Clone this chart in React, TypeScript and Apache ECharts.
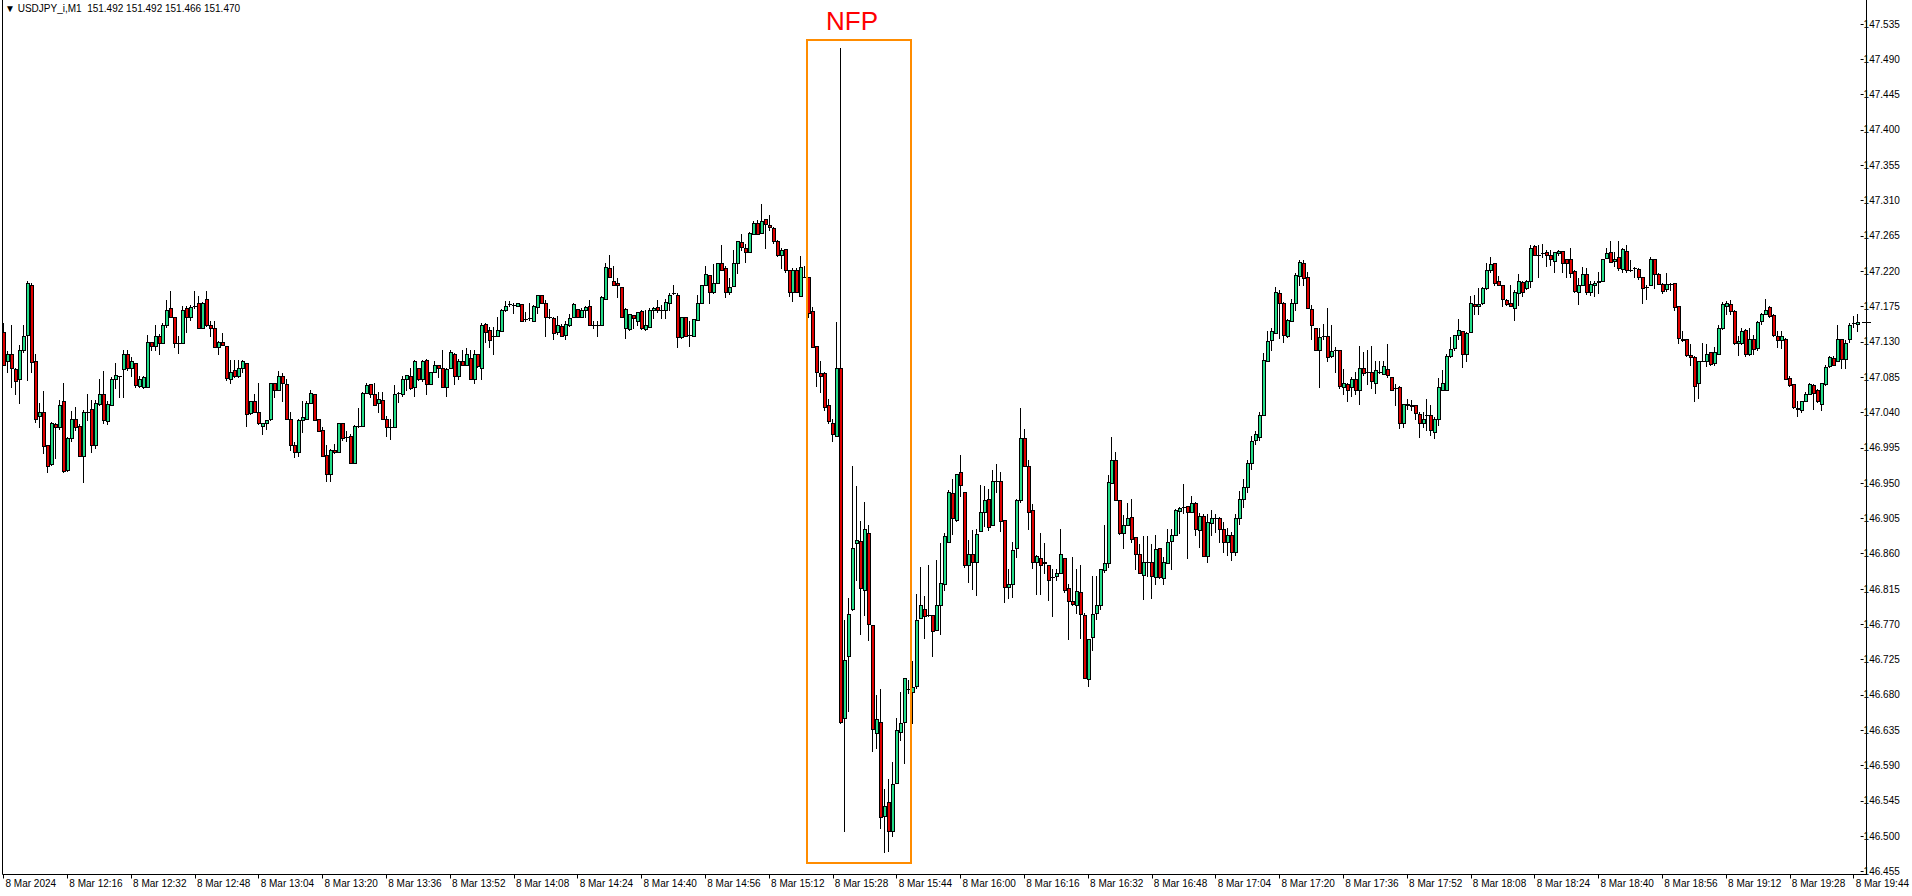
import React, { useEffect, useRef } from "react";
import * as echarts from "echarts";

// [open, close, low, high] per 1-minute candle, 8 Mar 2024, starting 12:00
const h12 = [
  [147.142,147.101,147.100,147.154],[147.105,147.114,147.091,147.118],[147.115,147.096,147.073,147.151],[147.095,147.080,147.064,147.097],
  [147.082,147.119,147.052,147.126],[147.119,147.138,147.117,147.152],[147.139,147.205,147.081,147.207],[147.203,147.104,147.091,147.205],
  [147.105,147.031,147.028,147.115],[147.035,147.040,147.022,147.052],[147.040,146.997,146.988,147.067],[146.998,146.972,146.964,146.998],
  [146.974,147.026,146.973,147.028],[147.025,147.022,146.982,147.027],[147.022,147.050,147.019,147.056],[147.055,146.965,146.964,147.077],
  [146.967,147.008,146.965,147.009],[147.008,147.032,147.004,147.042],[147.031,147.022,147.018,147.047],[147.023,146.985,146.985,147.025],
  [146.985,147.040,146.951,147.043],[147.041,147.041,147.030,147.064],[147.044,146.999,146.989,147.056],[146.999,147.052,146.995,147.056],
  [147.051,147.064,147.049,147.083],[147.064,147.030,147.027,147.093],[147.029,147.051,147.025,147.054],[147.050,147.082,147.050,147.085],
  [147.082,147.088,147.071,147.103],[147.087,147.087,147.060,147.087],[147.095,147.115,147.060,147.120],[147.115,147.096,147.094,147.120],
  [147.096,147.105,147.086,147.111],[147.103,147.075,147.073,147.103],[147.074,147.083,147.072,147.086],[147.073,147.085,147.071,147.087],
  [147.073,147.130,147.073,147.139],[147.130,147.125,147.120,147.130],[147.125,147.137,147.120,147.152],[147.137,147.129,147.115,147.140],
  [147.129,147.151,147.129,147.154],[147.151,147.171,147.149,147.183],[147.173,147.161,147.161,147.195],[147.161,147.128,147.124,147.161],
  [147.129,147.129,147.116,147.137],[147.129,147.171,147.129,147.176],[147.173,147.161,147.143,147.175],[147.161,147.174,147.158,147.177],
  [147.175,147.175,147.173,147.195],[147.180,147.148,147.147,147.188],[147.148,147.180,147.147,147.181],[147.184,147.151,147.150,147.195],
  [147.151,147.147,147.138,147.156],[147.147,147.124,147.124,147.156],[147.123,147.130,147.115,147.131],[147.130,147.126,147.126,147.141],
  [147.125,147.084,147.081,147.125],[147.083,147.092,147.078,147.107],[147.094,147.086,147.085,147.107],[147.086,147.097,147.085,147.107],
];
const h13 = [
  [147.097,147.105,147.092,147.107],[147.103,147.038,147.023,147.103],[147.039,147.054,147.038,147.054],[147.054,147.041,147.040,147.064],
  [147.041,147.026,147.025,147.077],[147.023,147.027,147.012,147.027],[147.026,147.030,147.019,147.030],[147.031,147.077,147.030,147.078],
  [147.078,147.069,147.060,147.078],[147.069,147.086,147.068,147.093],[147.086,147.077,147.054,147.090],[147.076,147.031,147.031,147.083],
  [147.031,146.999,146.992,147.041],[146.998,146.989,146.983,147.002],[146.990,147.030,146.985,147.032],[147.030,147.034,147.015,147.054],
  [147.032,147.052,147.032,147.054],[147.052,147.065,147.052,147.069],[147.063,147.030,147.030,147.063],[147.031,147.016,147.016,147.031],
  [147.018,146.985,146.985,147.022],[146.986,146.962,146.953,146.998],[146.961,146.992,146.952,146.993],[146.992,146.989,146.988,147.000],
  [146.990,147.027,146.990,147.027],[147.026,147.008,147.005,147.026],[147.009,147.009,147.003,147.016],[147.010,146.976,146.975,147.012],
  [146.976,147.023,146.976,147.024],[147.023,147.023,147.022,147.046],[147.023,147.065,147.023,147.066],[147.065,147.075,147.065,147.077],
  [147.076,147.064,147.060,147.076],[147.064,147.050,147.049,147.077],[147.052,147.057,147.040,147.066],[147.056,147.031,147.031,147.066],
  [147.032,147.021,147.010,147.035],[147.022,147.022,147.006,147.031],[147.021,147.064,147.021,147.075],[147.065,147.065,147.053,147.066],
  [147.064,147.083,147.061,147.087],[147.082,147.088,147.068,147.088],[147.087,147.071,147.070,147.097],[147.072,147.105,147.061,147.107],
  [147.097,147.083,147.081,147.097],[147.082,147.105,147.080,147.107],[147.107,147.076,147.064,147.108],[147.076,147.091,147.076,147.092],
  [147.091,147.101,147.091,147.105],[147.101,147.096,147.085,147.101],[147.096,147.073,147.072,147.119],[147.073,147.095,147.061,147.096],
  [147.096,147.117,147.096,147.119],[147.115,147.087,147.076,147.116],[147.087,147.106,147.083,147.108],[147.106,147.101,147.101,147.119],
  [147.100,147.115,147.100,147.122],[147.110,147.082,147.082,147.120],[147.082,147.115,147.077,147.120],[147.115,147.099,147.098,147.115],
];
const h14 = [
  [147.096,147.152,147.083,147.154],[147.153,147.142,147.130,147.154],[147.145,147.132,147.124,147.149],[147.138,147.138,147.115,147.149],
  [147.138,147.145,147.137,147.161],[147.144,147.170,147.144,147.172],[147.170,147.176,147.169,147.182],[147.178,147.178,147.176,147.182],
  [147.177,147.177,147.167,147.179],[147.175,147.179,147.175,147.180],[147.178,147.157,147.156,147.178],[147.159,147.159,147.156,147.168],
  [147.160,147.160,147.158,147.180],[147.157,147.176,147.157,147.177],[147.174,147.190,147.167,147.190],[147.190,147.180,147.180,147.190],
  [147.180,147.161,147.138,147.183],[147.161,147.161,147.160,147.172],[147.160,147.141,147.134,147.162],[147.142,147.151,147.140,147.163],
  [147.150,147.138,147.137,147.153],[147.139,147.153,147.134,147.156],[147.151,147.160,147.150,147.166],[147.162,147.178,147.161,147.179],
  [147.172,147.161,147.161,147.172],[147.161,147.171,147.161,147.173],[147.170,147.174,147.162,147.175],[147.175,147.152,147.151,147.183],
  [147.152,147.152,147.147,147.156],[147.152,147.152,147.138,147.156],[147.151,147.187,147.151,147.188],[147.185,147.225,147.185,147.230],
  [147.224,147.212,147.212,147.241],[147.207,147.203,147.203,147.227],[147.205,147.202,147.187,147.211],[147.200,147.162,147.161,147.200],
  [147.148,147.172,147.135,147.173],[147.146,147.165,147.145,147.166],[147.164,147.160,147.147,147.164],[147.157,147.168,147.151,147.168],
  [147.169,147.147,147.146,147.170],[147.146,147.151,147.145,147.170],[147.149,147.171,147.149,147.173],[147.171,147.173,147.160,147.174],
  [147.174,147.170,147.168,147.183],[147.171,147.171,147.160,147.177],[147.171,147.181,147.160,147.185],[147.180,147.190,147.170,147.192],
  [147.192,147.192,147.191,147.203],[147.190,147.136,147.124,147.192],[147.136,147.161,147.135,147.162],[147.161,147.138,147.138,147.162],
  [147.139,147.139,147.125,147.157],[147.138,147.159,147.138,147.159],[147.158,147.180,147.158,147.190],[147.180,147.203,147.179,147.203],
  [147.203,147.216,147.203,147.227],[147.215,147.194,147.179,147.215],[147.193,147.205,147.192,147.229],[147.205,147.230,147.205,147.231],
];
const h15 = [
  [147.231,147.221,147.221,147.253],[147.224,147.193,147.187,147.226],[147.194,147.200,147.191,147.211],[147.201,147.230,147.201,147.247],
  [147.231,147.258,147.218,147.258],[147.257,147.251,147.247,147.267],[147.250,147.245,147.232,147.255],[147.245,147.269,147.245,147.270],
  [147.268,147.282,147.268,147.284],[147.281,147.268,147.267,147.285],[147.269,147.284,147.269,147.306],[147.286,147.280,147.249,147.287],
  [147.279,147.276,147.273,147.292],[147.275,147.258,147.256,147.276],[147.259,147.241,147.239,147.260],[147.240,147.247,147.224,147.249],
  [147.248,147.221,147.219,147.248],[147.221,147.194,147.188,147.222],[147.194,147.222,147.182,147.224],[147.221,147.194,147.193,147.224],
  [147.189,147.225,147.188,147.239],[147.213,147.213,147.212,147.226],[147.212,147.167,147.162,147.212],[147.169,147.124,147.124,147.174],
  [147.125,147.091,147.074,147.125],[147.090,147.087,147.066,147.105],[147.090,147.047,147.043,147.091],[147.049,147.029,147.027,147.057],
  [147.027,147.012,147.004,147.031],[147.010,147.096,147.010,147.155],[147.096,146.646,146.644,147.504],[146.650,146.725,146.506,146.776],
  [146.729,146.783,146.659,146.803],[146.790,146.867,146.788,146.972],[146.873,146.877,146.827,146.946],[146.876,146.816,146.758,146.902],
  [146.814,146.892,146.782,146.926],[146.887,146.770,146.750,146.897],[146.769,146.636,146.608,146.769],[146.631,146.649,146.612,146.680],
  [146.646,146.524,146.511,146.687],[146.526,146.539,146.480,146.560],[146.543,146.506,146.481,146.573],[146.506,146.566,146.500,146.595],
  [146.568,146.635,146.568,146.651],[146.633,146.644,146.622,146.684],[146.646,146.701,146.593,146.701],[146.688,146.688,146.682,146.699],
  [146.684,146.690,146.644,146.723],[146.691,146.776,146.689,146.808],[146.778,146.795,146.778,146.843],[146.790,146.780,146.752,146.806],
  [146.782,146.782,146.780,146.846],[146.782,146.761,146.729,146.782],[146.763,146.794,146.763,146.852],[146.794,146.823,146.758,146.873],
  [146.821,146.882,146.814,146.887],[146.875,146.938,146.875,146.941],[146.937,146.905,146.885,146.955],[146.903,146.961,146.902,146.961],
];
const h16 = [
  [146.964,146.947,146.934,146.986],[146.938,146.845,146.843,146.938],[146.845,146.859,146.824,146.878],[146.860,146.849,146.815,146.890],
  [146.850,146.885,146.807,146.892],[146.889,146.913,146.889,146.947],[146.913,146.929,146.895,146.946],[146.930,146.894,146.890,146.943],
  [146.896,146.953,146.896,146.967],[146.953,146.953,146.939,146.974],[146.953,146.902,146.889,146.964],[146.903,146.817,146.799,146.903],
  [146.818,146.821,146.804,146.840],[146.822,146.865,146.805,146.875],[146.867,146.929,146.856,146.930],[146.928,147.008,146.926,147.046],
  [147.008,146.972,146.972,147.019],[146.972,146.913,146.892,146.979],[146.916,146.850,146.842,146.923],[146.849,146.857,146.808,146.858],
  [146.855,146.846,146.809,146.886],[146.850,146.848,146.835,146.873],[146.846,146.826,146.801,146.846],[146.830,146.830,146.780,146.841],
  [146.831,146.836,146.826,146.841],[146.836,146.859,146.835,146.891],[146.855,146.814,146.811,146.855],[146.816,146.800,146.751,146.822],
  [146.800,146.796,146.794,146.856],[146.795,146.812,146.784,146.840],[146.811,146.783,146.753,146.845],[146.782,146.701,146.701,146.784],
  [146.700,146.751,146.692,146.751],[146.754,146.783,146.737,146.831],[146.784,146.795,146.777,146.831],[146.794,146.840,146.790,146.840],
  [146.839,146.848,146.837,146.896],[146.848,146.951,146.843,146.960],[146.950,146.980,146.950,147.009],[146.980,146.929,146.929,146.990],
  [146.929,146.887,146.885,146.929],[146.887,146.896,146.867,146.909],[146.896,146.906,146.896,146.924],[146.907,146.879,146.875,146.930],
  [146.881,146.859,146.841,146.881],[146.859,146.836,146.836,146.872],[146.833,146.849,146.802,146.882],[146.850,146.850,146.831,146.882],
  [146.849,146.831,146.804,146.872],[146.830,146.866,146.822,146.884],[146.867,146.830,146.829,146.867],[146.829,146.849,146.821,146.856],
  [146.848,146.875,146.848,146.892],[146.876,146.884,146.841,146.892],[146.884,146.916,146.884,146.917],[146.915,146.918,146.886,146.920],
  [146.920,146.920,146.912,146.949],[146.921,146.913,146.855,146.921],[146.913,146.924,146.913,146.934],[146.924,146.892,146.884,146.926],
];
const h17 = [
  [146.890,146.908,146.868,146.912],[146.908,146.857,146.857,146.911],[146.857,146.900,146.850,146.911],[146.899,146.906,146.884,146.916],
  [146.906,146.906,146.888,146.911],[146.906,146.892,146.875,146.907],[146.892,146.875,146.862,146.900],[146.875,146.884,146.858,146.893],
  [146.884,146.862,146.852,146.888],[146.862,146.905,146.858,146.910],[146.905,146.930,146.898,146.940],[146.930,146.945,146.920,146.955],
  [146.945,146.975,146.938,146.980],[146.975,147.004,146.968,147.010],[147.005,147.013,147.000,147.016],[147.009,147.037,147.005,147.040],
  [147.037,147.107,147.037,147.116],[147.106,147.131,147.105,147.144],[147.132,147.144,147.120,147.147],[147.141,147.193,147.141,147.200],
  [147.192,147.180,147.135,147.196],[147.179,147.139,147.130,147.181],[147.138,147.158,147.136,147.159],[147.156,147.179,147.156,147.184],
  [147.180,147.215,147.170,147.218],[147.214,147.232,147.203,147.234],[147.231,147.211,147.202,147.234],[147.212,147.173,147.173,147.219],
  [147.172,147.151,147.134,147.177],[147.147,147.119,147.119,147.148],[147.119,147.136,147.072,147.147],[147.138,147.138,147.134,147.153],
  [147.138,147.111,147.105,147.173],[147.112,147.118,147.111,147.151],[147.119,147.119,147.091,147.123],[147.119,147.074,147.071,147.119],
  [147.073,147.077,147.063,147.095],[147.076,147.068,147.054,147.078],[147.073,147.083,147.061,147.085],[147.082,147.068,147.063,147.092],
  [147.068,147.096,147.051,147.125],[147.096,147.090,147.088,147.117],[147.091,147.091,147.076,147.119],[147.091,147.080,147.071,147.125],
  [147.078,147.094,147.065,147.105],[147.092,147.092,147.090,147.105],[147.089,147.099,147.089,147.105],[147.095,147.088,147.085,147.127],
  [147.085,147.068,147.068,147.085],[147.071,147.071,147.049,147.076],[147.072,147.026,147.020,147.074],[147.027,147.051,147.022,147.051],
  [147.051,147.049,147.044,147.057],[147.050,147.048,147.043,147.056],[147.050,147.039,147.031,147.050],[147.038,147.026,147.009,147.040],
  [147.027,147.032,147.022,147.040],[147.037,147.037,147.018,147.057],[147.037,147.017,147.011,147.049],[147.015,147.031,147.008,147.034],
];
const h18 = [
  [147.031,147.072,147.024,147.084],[147.068,147.077,147.068,147.094],[147.068,147.112,147.068,147.114],[147.112,147.121,147.111,147.136],
  [147.122,147.139,147.120,147.139],[147.139,147.145,147.134,147.159],[147.144,147.115,147.098,147.144],[147.115,147.141,147.106,147.142],
  [147.142,147.180,147.142,147.188],[147.178,147.176,147.166,147.190],[147.176,147.178,147.166,147.199],[147.179,147.199,147.178,147.200],
  [147.198,147.221,147.197,147.231],[147.221,147.229,147.219,147.238],[147.230,147.205,147.203,147.231],[147.207,147.203,147.202,147.214],
  [147.202,147.184,147.175,147.202],[147.183,147.178,147.177,147.184],[147.179,147.176,147.175,147.202],[147.173,147.193,147.158,147.196],
  [147.192,147.207,147.177,147.217],[147.206,147.194,147.188,147.207],[147.198,147.208,147.197,147.209],[147.208,147.250,147.200,147.253],
  [147.252,147.241,147.241,147.254],[147.241,147.241,147.212,147.253],[147.243,147.243,147.238,147.255],[147.244,147.240,147.227,147.247],
  [147.241,147.235,147.228,147.247],[147.233,147.244,147.219,147.245],[147.243,147.246,147.241,147.247],[147.246,147.231,147.219,147.246],
  [147.236,147.231,147.213,147.236],[147.236,147.218,147.213,147.250],[147.220,147.195,147.193,147.222],[147.193,147.203,147.178,147.211],
  [147.203,147.217,147.202,147.225],[147.217,147.194,147.191,147.224],[147.194,147.204,147.190,147.208],[147.203,147.205,147.188,147.207],
  [147.206,147.207,147.192,147.219],[147.207,147.235,147.207,147.236],[147.237,147.243,147.237,147.249],[147.244,147.232,147.232,147.258],
  [147.233,147.236,147.226,147.244],[147.238,147.224,147.222,147.258],[147.223,147.248,147.219,147.249],[147.246,147.222,147.219,147.253],
  [147.222,147.222,147.220,147.234],[147.224,147.224,147.213,147.225],[147.223,147.212,147.210,147.224],[147.212,147.199,147.180,147.213],
  [147.200,147.200,147.184,147.203],[147.203,147.235,147.202,147.238],[147.235,147.216,147.199,147.235],[147.216,147.204,147.204,147.218],
  [147.204,147.195,147.192,147.205],[147.197,147.204,147.195,147.218],[147.204,147.204,147.196,147.205],[147.205,147.174,147.170,147.205],
];
const h19 = [
  [147.175,147.135,147.129,147.175],[147.134,147.132,147.131,147.144],[147.133,147.113,147.112,147.133],[147.113,147.111,147.100,147.127],
  [147.111,147.074,147.055,147.112],[147.078,147.105,147.059,147.106],[147.106,147.106,147.105,147.128],[147.105,147.114,147.099,147.127],
  [147.117,147.102,147.100,147.117],[147.103,147.117,147.100,147.123],[147.115,147.148,147.114,147.152],[147.148,147.178,147.146,147.181],
  [147.175,147.180,147.166,147.182],[147.178,147.169,147.166,147.183],[147.169,147.129,147.127,147.170],[147.128,147.131,147.113,147.137],
  [147.128,147.144,147.127,147.148],[147.145,147.114,147.112,147.146],[147.114,147.133,147.113,147.148],[147.134,147.121,147.114,147.139],
  [147.122,147.155,147.119,147.156],[147.156,147.165,147.153,147.167],[147.166,147.170,147.165,147.185],[147.174,147.163,147.161,147.175],
  [147.164,147.139,147.138,147.165],[147.137,147.132,147.124,147.144],[147.132,147.137,147.122,147.144],[147.134,147.083,147.083,147.135],
  [147.084,147.075,147.074,147.086],[147.076,147.047,147.046,147.076],[147.046,147.044,147.035,147.054],[147.043,147.054,147.041,147.055],
  [147.054,147.064,147.054,147.066],[147.064,147.076,147.063,147.078],[147.075,147.065,147.044,147.076],[147.068,147.054,147.053,147.070],
  [147.051,147.077,147.043,147.078],[147.076,147.098,147.075,147.100],[147.099,147.111,147.098,147.112],[147.110,147.101,147.100,147.112],
  [147.105,147.134,147.105,147.152],[147.134,147.108,147.097,147.134],[147.108,147.129,147.096,147.132],[147.133,147.152,147.130,147.154],
  [147.154,147.154,147.149,147.163],[147.153,147.155,147.144,147.165],
];

const startHour = 12;
const startMinute = 0;
const dateLabel = "8 Mar";
const firstLabel = "8 Mar 2024";
const headerText = "\u25BC USDJPY_i,M1  151.492 151.492 151.466 151.470";
const eventLabel = "NFP";
const yMin = 146.455;
const yMax = 147.535;
const yStep = 0.045;

const candles = [...h12, ...h13, ...h14, ...h15, ...h16, ...h17, ...h18, ...h19];

const categories = candles.map((_, i) => {
  const t = startHour * 60 + startMinute + i;
  const hh = String(Math.floor(t / 60)).padStart(2, "0");
  const mm = String(t % 60).padStart(2, "0");
  return `${hh}:${mm}`;
});

// [index, open, close, low, high]
const seriesData = candles.map(([o, c, l, h], i) => [i, o, c, Math.min(l, o, c), Math.max(h, o, c)]);

const FONT = '"Liberation Sans", Arial, "DejaVu Sans", sans-serif';
const UP = "#22DC88";
const DOWN = "#E00000";

function renderCandle(params: any, api: any) {
  const idx = api.value(0);
  const o = api.value(1);
  const c = api.value(2);
  const l = api.value(3);
  const h = api.value(4);
  const po = api.coord([idx, o]);
  const yc = api.coord([idx, c])[1];
  const yl = api.coord([idx, l])[1];
  const yh = api.coord([idx, h])[1];
  const px = Math.floor(po[0]);
  const top = Math.round(Math.min(po[1], yc));
  const bot = Math.round(Math.max(po[1], yc));
  const hy = Math.round(yh);
  const ly = Math.round(yl);
  const children: any[] = [
    { type: "rect", shape: { x: px, y: hy, width: 1, height: ly - hy + 1 }, style: { fill: "#000" } },
    { type: "rect", shape: { x: px - 1, y: top, width: 4, height: bot - top + 1 }, style: { fill: "#000" } },
  ];
  if (bot - top >= 2) {
    children.push({
      type: "rect",
      shape: { x: px, y: top + 1, width: 2, height: bot - top - 1 },
      style: { fill: c >= o ? UP : DOWN },
    });
  }
  return { type: "group", children };
}

export default function App() {
  const ref = useRef<HTMLDivElement>(null);
  useEffect(() => {
    if (!ref.current) return;
    const chart = echarts.init(ref.current, undefined, { renderer: "svg" });
    chart.setOption({
      animation: false,
      backgroundColor: "#ffffff",
      grid: { left: 1.5, right: 46.5, top: 24, bottom: 24.5 },
      xAxis: {
        type: "category",
        data: categories,
        boundaryGap: true,
        offset: 3,
        axisLine: { show: false },
        axisTick: { show: true, interval: 15, alignWithLabel: true, length: 4, lineStyle: { color: "#000", width: 1 } },
        axisLabel: {
          interval: 15,
          align: "left",
          margin: 4,
          padding: [0, 0, 0, 2],
          color: "#000",
          fontSize: 10,
          fontFamily: FONT,
          formatter: (v: string, idx: number) => (idx === 0 ? firstLabel : `${dateLabel} ${v}`),
        },
        splitLine: { show: false },
      },
      yAxis: {
        type: "value",
        position: "right",
        min: yMin,
        max: yMax,
        interval: yStep,
        offset: 1,
        axisLine: { show: false },
        axisTick: { show: true, length: 3, lineStyle: { color: "#000", width: 1 } },
        axisLabel: {
          margin: 3,
          color: "#000",
          fontSize: 10,
          fontFamily: FONT,
          formatter: (v: number) => v.toFixed(3),
        },
        splitLine: { show: false },
      },
      series: [
        {
          type: "custom",
          data: seriesData,
          encode: { x: 0, y: [1, 2, 3, 4] },
          renderItem: renderCandle,
          clip: false,
        },
      ],
      graphic: [
        { type: "line", z: 50, shape: { x1: 2.5, y1: 0, x2: 2.5, y2: 874.5 }, style: { stroke: "#000", lineWidth: 1 } },
        { type: "line", z: 50, shape: { x1: 1866.5, y1: 0, x2: 1866.5, y2: 874.5 }, style: { stroke: "#000", lineWidth: 1 } },
        { type: "line", z: 50, shape: { x1: 2.5, y1: 874.5, x2: 1866.5, y2: 874.5 }, style: { stroke: "#000", lineWidth: 1 } },
        {
          type: "text",
          z: 50,
          left: 5,
          top: 3,
          style: { text: headerText, fill: "#000", font: `10px ${FONT}` },
        },
        {
          type: "rect",
          z: 60,
          shape: { x: 807, y: 40, width: 104, height: 823 },
          style: { fill: "none", stroke: "#FF8C00", lineWidth: 2 },
        },
        {
          type: "text",
          z: 60,
          x: 852,
          y: 34,
          style: { text: eventLabel, fill: "#FF0000", font: `26px ${FONT}`, textAlign: "center", textVerticalAlign: "bottom" },
        },
      ],
    });
    const last = seriesData[seriesData.length - 1][2];
    const py = Math.round(chart.convertToPixel({ yAxisIndex: 0 }, last) as number) + 0.5;
    chart.setOption({
      graphic: [
        { id: "lastMark", type: "line", z: 55, shape: { x1: 1862, y1: py, x2: 1871, y2: py }, style: { stroke: "#000", lineWidth: 1 } },
      ],
    });
    return () => chart.dispose();
  }, []);
  return <div ref={ref} style={{ position: "absolute", left: 0, top: 0, width: 1912, height: 896 }} />;
}
